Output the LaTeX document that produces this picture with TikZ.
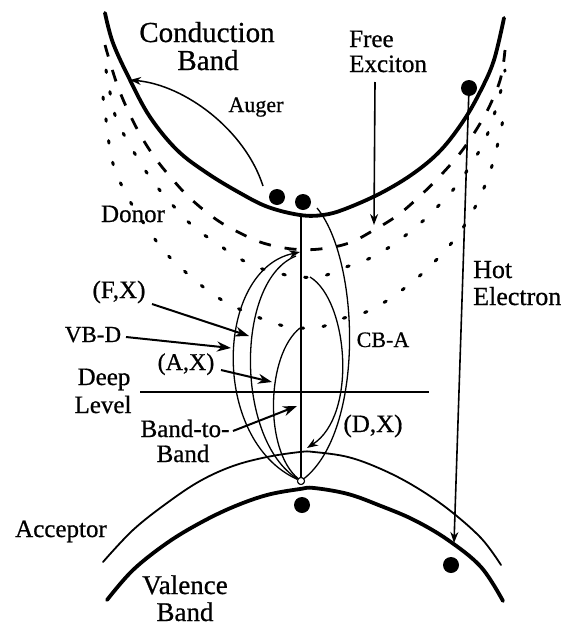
\documentclass[tikz,border=0pt]{standalone}
\usepackage{fontspec}
\setmainfont{Liberation Serif}[FakeBold=0.7]
\usetikzlibrary{arrows.meta}
\begin{document}
\begin{tikzpicture}[x=1pt,y=-1pt,
  band/.style={line width=3.8pt,line cap=round},
  acclevel/.style={line width=1.8pt,line cap=round},
  trans/.style={line width=1.3pt},
  lbl/.style={inner sep=0pt,anchor=base,font=\fontsize{25}{25}\selectfont},
  big/.style={inner sep=0pt,anchor=base,font=\fontsize{29}{29}\selectfont},
  ptr/.style={line width=2pt,-{Stealth[length=14pt,width=10pt]}},
  tip/.style={-{Stealth[length=11pt,width=8pt]}},
  carrier/.style={circle,fill=black,inner sep=0pt,minimum size=16pt},
  hole/.style={circle,draw=black,fill=white,line width=1pt,inner sep=0pt,minimum size=7pt},
  dashedlvl/.style={line width=2.8pt,dash pattern=on 12pt off 14pt},
  dottedlvl/.style={line width=3pt,line cap=round,dash pattern=on 2.5pt off 19.5pt},
]
\useasboundingbox (0,0) rectangle (562,627);

% bands
\draw[band] plot[smooth,tension=0.6] coordinates {(105,13) (113,43) (130,80) (150,117) (177,150) (207,173) (240,193) (268,207) (300,215) (323,215) (345,209) (381,193) (414,173) (441,150) (464,120) (481,90) (494,60) (504,18)};
\draw[band] plot[smooth,tension=0.6] coordinates {(107,600) (133,570) (167,543) (200,523) (233,507) (267,495) (300,489) (314,488) (348,494) (381,506) (414,520) (448,540) (481,567) (503,601)};
\draw[acclevel] plot[smooth,tension=0.6] coordinates {(103,562) (133,530) (167,503) (200,481) (233,466) (267,457) (300,452) (314,452) (348,457) (381,469) (414,486) (448,509) (481,538) (501,565)};

% exciton and donor levels
\draw[dashedlvl] plot[smooth,tension=0.6] coordinates {(105,45) (118,87) (135,125) (153,155) (173,180) (192,200) (217,220) (240,233) (263,243) (292,249) (320,249) (349,243) (374,230) (398,215) (421,195) (441,175) (461,152) (478,127) (491,103) (501,77) (505,50)};
\draw[dottedlvl] plot[smooth,tension=0.6] coordinates {(106,70) (115,115) (127,140) (145,170) (162,193) (180,213) (197,230) (217,243) (233,255) (257,267) (277,273) (300,277) (323,276) (346,267) (366,260) (388,248) (406,235) (424,220) (441,203) (457,185) (472,163) (485,140) (494,115) (501,90) (505,70)};
\draw[dottedlvl] plot[smooth,tension=0.6] coordinates {(103,97) (107,127) (110,150) (115,170) (125,192) (137,213) (150,232) (163,250) (180,267) (197,282) (217,297) (237,308) (260,318) (280,325) (300,328) (321,327) (344,318) (366,312) (388,300) (406,287) (424,272) (439,257) (454,240) (468,220) (480,197) (490,172) (497,147) (503,120)};

% deep level
\coordinate (dl1) at (140,392);
\coordinate (dl2) at (429,392);
\draw[line width=1.4pt] (dl1) -- (dl2);

% labels
\node[big] (cb1) at (207,42) {Conduction};
\node[big] (cb2) at (208,70) {Band};
\node[lbl,anchor=base west] (fe1) at (349,47) {Free};
\node[lbl,anchor=base west] (fe2) at (349,72) {Exciton};
\node[lbl,font=\fontsize{22}{22}\selectfont] (aug) at (256,112) {Auger};
\node[lbl] (don) at (133,222) {Donor};
\node[lbl] (fx) at (119,298) {(F,X)};
\node[lbl,font=\fontsize{23}{23}\selectfont] (vbd) at (93,342) {VB-D};
\node[lbl,font=\fontsize{24}{24}\selectfont] (axl) at (186,370) {(A,X)};
\node[lbl] (deep1) at (104,385) {Deep};
\node[lbl] (deep2) at (103,413) {Level};
\node[lbl] (bt1) at (185,437) {Band-to-};
\node[lbl] (bt2) at (183,462) {Band};
\node[lbl,font=\fontsize{22}{22}\selectfont] (cba) at (383,347) {CB-A};
\node[lbl] (dx) at (373,432) {(D,X)};
\node[lbl,anchor=base west,font=\fontsize{26}{26}\selectfont] (hot1) at (473,278) {Hot};
\node[lbl,anchor=base west,font=\fontsize{26}{26}\selectfont] (hot2) at (473,305) {Electron};
\node[lbl] (acc) at (61,537) {Acceptor};
\node[big,font=\fontsize{27}{27}\selectfont] (vb1) at (185,594) {Valence};
\node[big,font=\fontsize{27}{27}\selectfont] (vb2) at (185,621) {Band};

% key points
\coordinate (fxS) at (152,304);  \coordinate (fxT) at (249,336);
\coordinate (vbdS) at (126,337); \coordinate (vbdT) at (231,348);
\coordinate (axS) at (221,370);  \coordinate (axT) at (272,382);
\coordinate (btS) at (233,431);  \coordinate (btT) at (297,406);
\coordinate (feS) at (375,82);   \coordinate (feT) at (374,225);
\coordinate (augS) at (263,186); \coordinate (augT) at (130,80);
\coordinate (hotT) at (454,543);
\coordinate (cbmin) at (301,215);
\coordinate (exc) at (300,252);  \coordinate (exc2) at (296,256);
\coordinate (acT) at (300,328);
\coordinate (dxS) at (310,277);  \coordinate (dxT) at (307,448);
\coordinate (cbaS) at (317,208);
\node[hole] (hv) at (301,481) {};

% transitions
\draw[trans] (cbmin) -- (hv);
\draw[trans,tip] (hv) .. controls (210,440) and (215,270) .. (exc);
\draw[trans] (hv) .. controls (235,440) and (235,280) .. (exc2);
\draw[trans] (acT) .. controls (266,355) and (264,450) .. (hv);
\draw[trans] (cbaS) .. controls (360,260) and (365,430) .. (hv);
\draw[trans,tip] (dxS) .. controls (348,300) and (358,415) .. (dxT);
\node[hole] at (hv) {};

% pointers
\draw[ptr] (fxS) -- (fxT);
\draw[ptr] (vbdS) -- (vbdT);
\draw[ptr] (axS) -- (axT);
\draw[ptr] (btS) -- (btT);
\draw[line width=1.6pt,tip] (feS) -- (feT);
\draw[line width=1.5pt,tip] (augS) .. controls (245,130) and (185,85) .. (augT);

% carriers
\node[carrier] (e1) at (277,197) {};
\node[carrier] (e2) at (303,202) {};
\node[carrier] (e3) at (469,88) {};
\node[carrier] (h1) at (302,505) {};
\node[carrier] (h2) at (451,565) {};
\draw[line width=1.6pt,tip] (e3) -- (hotT);
\end{tikzpicture}
\end{document}
